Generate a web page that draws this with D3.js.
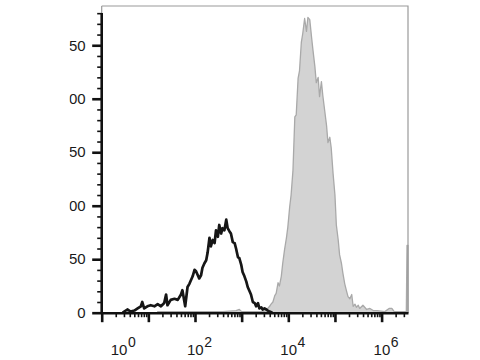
<!DOCTYPE html>
<html>
<head>
<meta charset="utf-8">
<script src="https://cdn.jsdelivr.net/npm/d3@7"></script>
<style>
  html, body { margin: 0; padding: 0; background: #fff; }
  svg { display: block; }
  text { font-family: "Liberation Sans", Arial, sans-serif; fill: #1a1a1a; }
</style>
</head>
<body>
<svg id="chart" width="480" height="360"></svg>
<script>
// ---- data (log10 fluorescence position, event count) ----
const blackLog = [0.45,0.55,0.62,0.70,0.77,0.84,0.87,0.91,0.98,1.05,1.13,1.20,1.27,1.34,1.38,1.41,1.48,1.56,1.63,1.70,1.73,1.79,1.84,1.88,1.95,1.99,2.02,2.06,2.09,2.13,2.16,2.20,2.24,2.27,2.31,2.34,2.38,2.42,2.45,2.49,2.52,2.56,2.59,2.63,2.67,2.70,2.74,2.77,2.81,2.85,2.88,2.92,2.95,2.99,3.02,3.06,3.10,3.13,3.17,3.20,3.24,3.28,3.31,3.35,3.38,3.42,3.45,3.49,3.53,3.56,3.60,3.66];
const blackCount = [0,3,1,2,4,6,10,4,6,7,6,8,6,9,17,7,12,13,12,17,21,6,24,27,34,40,39,35,32,35,42,46,49,56,70,62,68,65,77,71,82,74,79,77,87,79,76,74,66,65,60,52,51,45,38,34,29,24,20,17,10,9,6,9,4,5,3,4,3,2,1,0];
const grayLog = [1.20,1.50,2.00,2.60,2.88,2.95,3.00,3.20,3.45,3.52,3.56,3.60,3.63,3.67,3.71,3.74,3.78,3.81,3.85,3.88,3.92,3.96,3.99,4.03,4.06,4.10,4.14,4.17,4.21,4.24,4.28,4.31,4.35,4.39,4.42,4.46,4.50,4.53,4.57,4.60,4.64,4.67,4.71,4.74,4.78,4.82,4.85,4.89,4.92,4.96,5.00,5.03,5.07,5.10,5.14,5.17,5.21,5.25,5.28,5.32,5.36,5.39,5.43,5.46,5.50,5.53,5.60,5.68,5.75,5.82,5.90,6.07,6.16,6.22,6.27,6.50,6.53,6.545,6.566];
const grayCount = [1,1,1,1,2,3,1,1,1,2,4,6,8,10,16,18,28,25,34,46,59,70,80,99,110,133,183,185,219,226,253,261,275,263,276,274,257,245,230,215,220,202,216,203,189,175,159,164,154,130,110,82,68,54,46,37,27,20,15,13,17,6,8,5,7,4,7,3,4,2,2,1,4,4,1,1,1,63,63];
const yTickValues = [0, 50, 100, 150, 200, 250];
const xDecades = [0, 1, 2, 3, 4, 5, 6];
const xLabelExps = ["0", "2", "4", "6"];

// ---- layout ----
const svg = d3.select("#chart");
const L = 101.7, R = 408, T = 6, B = 312.7;
const x = d3.scaleLog().domain([1, Math.pow(10, 6.566)]).range([L, R]);
const y = d3.scaleLinear().domain([0, 286.7]).range([B, T]);

const gray = grayLog.map((l, i) => ({ v: Math.pow(10, l), c: grayCount[i] }));
const black = blackLog.map((l, i) => ({ v: Math.pow(10, l), c: blackCount[i] }));

// gray filled histogram
svg.append("path")
  .datum(gray)
  .attr("d", d3.area().x(d => x(d.v)).y0(y(0)).y1(d => y(d.c)))
  .attr("fill", "#d3d3d3")
  .attr("stroke", "#a9a9a9")
  .attr("stroke-width", 1.3)
  .attr("stroke-linejoin", "round");

// black open histogram
svg.append("path")
  .datum(black)
  .attr("d", d3.line().x(d => x(d.v)).y(d => y(d.c)))
  .attr("fill", "none")
  .attr("stroke", "#161616")
  .attr("stroke-width", 2.7)
  .attr("stroke-linejoin", "round");

// frame (top, right)
svg.append("path")
  .attr("d", `M${L},${T}H${R}V${B}`)
  .attr("fill", "none")
  .attr("stroke", "#9a9a9a")
  .attr("stroke-width", 1.2);
svg.append("line").attr("x1", L).attr("x2", L).attr("y1", T).attr("y2", 13)
  .attr("stroke", "#9a9a9a").attr("stroke-width", 1.2);

// ---- x axis ----
const xMinor = [];
for (let d = 0; d <= 6; d++) for (let k = 2; k <= 9; k++) {
  const v = k * Math.pow(10, d);
  if (v <= x.domain()[1]) xMinor.push(v);
}
const gxMinor = svg.append("g").attr("transform", `translate(0,${B})`)
  .call(d3.axisBottom(x).tickValues(xMinor).tickSize(4.5).tickSizeOuter(0).tickFormat(""));
gxMinor.select(".domain").remove();
gxMinor.selectAll(".tick line").attr("stroke", "#111").attr("stroke-width", 1.6);

const gxMajor = svg.append("g").attr("transform", `translate(0,${B})`)
  .call(d3.axisBottom(x).tickValues(xDecades.map(d => Math.pow(10, d))).tickSize(9.5).tickSizeOuter(0).tickFormat(""));
gxMajor.select(".domain").attr("stroke", "#111").attr("stroke-width", 2.6);
gxMajor.selectAll(".tick line").attr("stroke", "#111").attr("stroke-width", 2.6);

// x labels 10^n
xLabelExps.forEach((e, i) => {
  const px = x(Math.pow(10, +e)) + (i === 0 ? 9 : -8);
  const t = svg.append("text")
    .attr("x", px).attr("y", 355)
    .attr("font-size", 15);
  t.append("tspan").text("10");
  t.append("tspan").attr("dy", -8.5).attr("dx", 0.5).attr("font-size", 14).text(e);
});

// ---- y axis ----
svg.append("defs").append("clipPath").attr("id", "ylabclip")
  .append("rect").attr("x", 69.5).attr("y", 0).attr("width", 40).attr("height", 360);

const yMinor = d3.range(10, 290, 10).filter(v => v % 50 !== 0);
const gyMinor = svg.append("g").attr("transform", `translate(${L},0)`)
  .call(d3.axisLeft(y).tickValues(yMinor).tickSize(4.5).tickSizeOuter(0).tickFormat(""));
gyMinor.select(".domain").remove();
gyMinor.selectAll(".tick line").attr("stroke", "#111").attr("stroke-width", 1.6);

const gy = svg.append("g").attr("transform", `translate(${L},0)`)
  .call(d3.axisLeft(y).tickValues(yTickValues).tickSize(9.5).tickSizeOuter(0).tickFormat(""));
gy.select(".domain").remove();
gy.selectAll(".tick line").attr("stroke", "#111").attr("stroke-width", 2.6);

// y tick labels; leading digits are cut at the left, as in the reference
svg.append("g").attr("clip-path", "url(#ylabclip)")
  .selectAll("text").data(yTickValues).join("text")
  .attr("x", L - 16)
  .attr("y", d => y(d))
  .attr("dy", "0.35em")
  .attr("text-anchor", "end")
  .attr("font-size", 15)
  .text(d => d3.format("d")(d));

svg.append("line").attr("x1", L).attr("x2", L).attr("y1", 13).attr("y2", B + 1.3)
  .attr("stroke", "#111").attr("stroke-width", 2.6);
</script>
</body>
</html>
